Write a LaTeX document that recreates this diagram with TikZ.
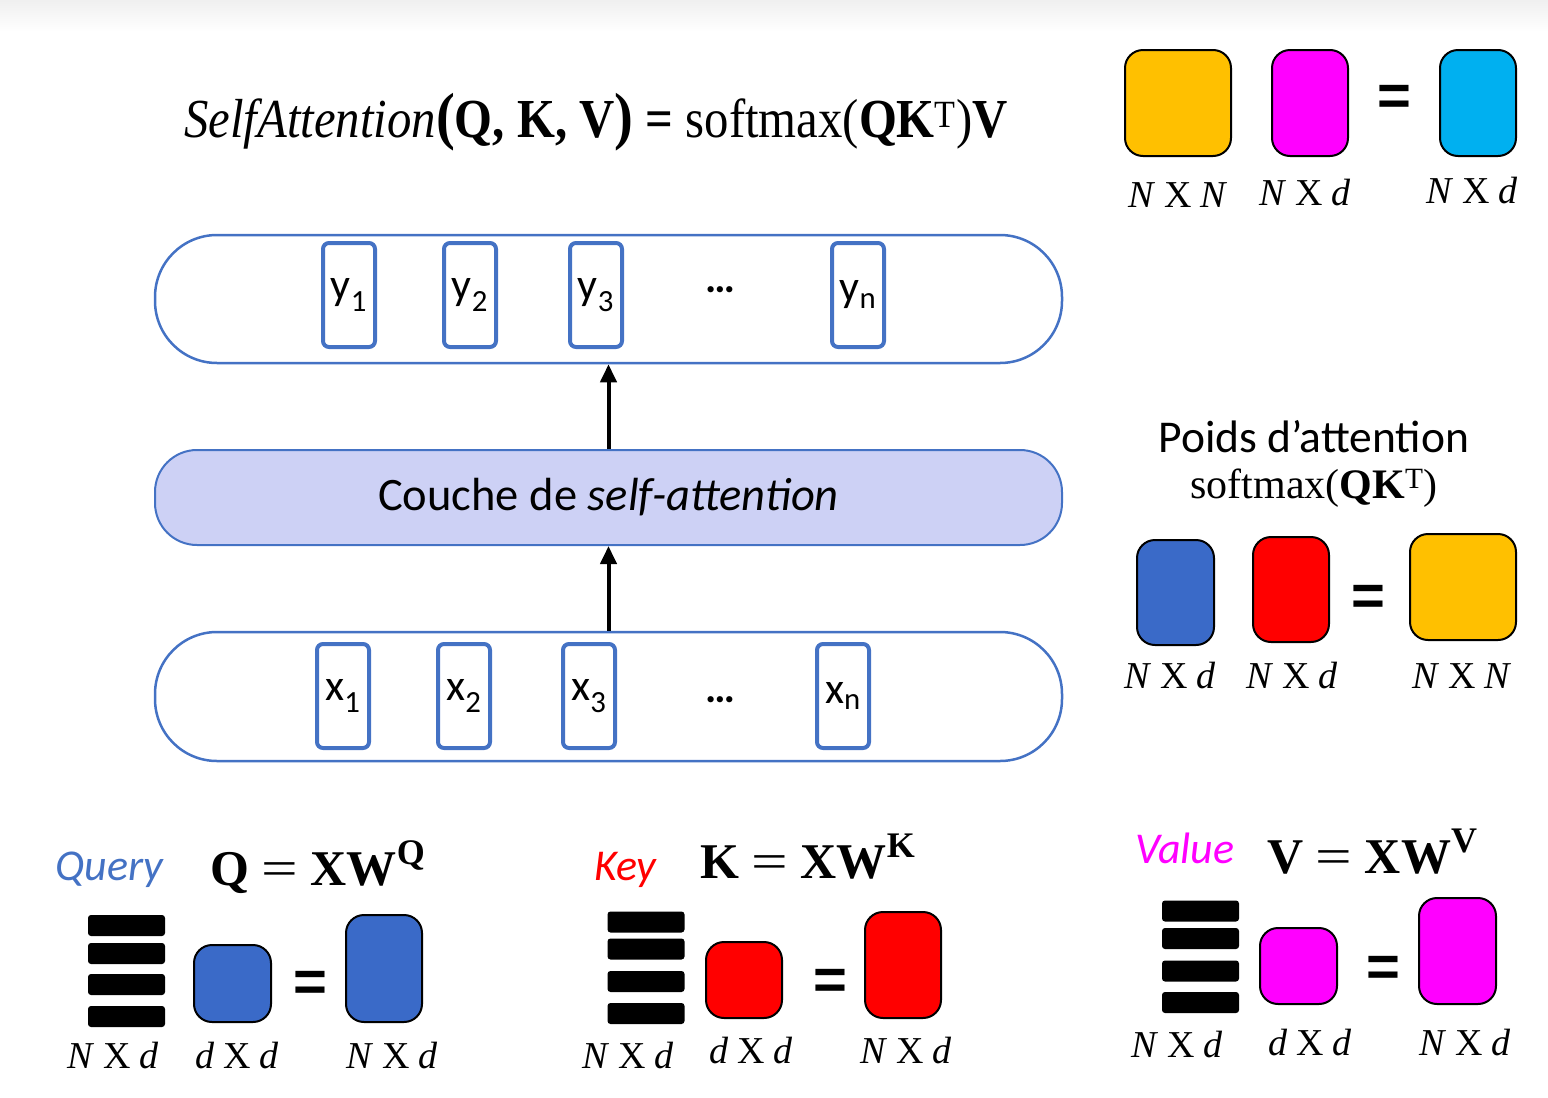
\documentclass[tikz,border=0pt]{standalone}
\usepackage{fontspec}
\setmainfont{Liberation Serif}
\newfontfamily\carl{Carlito}
\newfontfamily\arialf{Liberation Sans}
\usetikzlibrary{arrows.meta}
\definecolor{pillblue}{HTML}{4472C4}
\definecolor{qblue}{HTML}{3A6AC8}
\definecolor{kred}{HTML}{FF0000}
\definecolor{vmag}{HTML}{FF00FF}
\definecolor{worange}{HTML}{FFC000}
\definecolor{ocyan}{HTML}{00B0F0}
\definecolor{lav}{HTML}{CDD1F5}
\newcommand{\dimlab}[3]{\fontsize{38}{40}\selectfont\textit{#1}\hspace{0.22em}X\hspace{0.22em}\textit{#3}}
\newcommand{\proj}[1]{\textbf{#1}\hspace{0.25em}\scalebox{1.3}[1]{=}\hspace{0.25em}\textbf{XW}\raisebox{0.42em}{\fontsize{36}{36}\selectfont\textbf{#1}}}
\begin{document}
\begin{tikzpicture}[x=1pt,y=-1pt,
  pill/.style={draw=pillblue,line width=2.5pt,rounded corners=62pt,inner sep=0pt},
  tok/.style={draw=pillblue,line width=4pt,rounded corners=6pt,minimum width=52pt,minimum height=104pt,inner sep=0pt,font=\carl\fontsize{44}{48}\selectfont},
  mat/.style={draw=black,line width=2pt,rounded corners=18pt,inner sep=0pt},
  bar/.style={fill=black,rounded corners=3pt,minimum width=77pt,minimum height=21pt,inner sep=0pt},
  eqs/.style={font=\arialf\bfseries\fontsize{58}{60}\selectfont,inner sep=0pt},
  dim/.style={anchor=base,inner sep=0pt},
  arr/.style={line width=4pt,-{Triangle[length=18pt,width=16pt]}},
  ser/.style={inner sep=0pt,anchor=base west}]
\useasboundingbox (0,0) rectangle (1548,1098);
\shade[top color=black!6,bottom color=white] (0,0) rectangle (1548,32);

% top formula
\node[inner sep=0pt,anchor=base] (formula) at (596,137) {\scalebox{0.975}[1.1]{\fontsize{50}{60}\selectfont\textit{SelfAttention}{\fontsize{58}{60}\selectfont\textbf{(}}\textbf{Q, K, V}{\fontsize{58}{60}\selectfont\textbf{)}} \textbf{=} softmax({\bfseries QK}\textsuperscript{T})\textbf{V}}};

% top right matrices
\node[mat,fill=worange,minimum width=106pt,minimum height=106pt] (m1) at (1178,103) {};
\node[mat,fill=vmag,minimum width=76pt,minimum height=106pt] (m2) at (1310,103) {};
\node[eqs] (eq1) at (1394,100) {=};
\node[mat,fill=ocyan,minimum width=76pt,minimum height=106pt] (m3) at (1478,103) {};
\node[dim] (l1) at (1178,207) {\dimlab{N}{X}{N}};
\node[dim] (l2) at (1305,205) {\dimlab{N}{X}{d}};
\node[dim] (l3) at (1472,203) {\dimlab{N}{X}{d}};

% output pill
\node[pill,minimum width=907pt,minimum height=128pt] (ypill) at (608.5,299) {};
\node[tok] (y1) at (349,295) {y\textsubscript{1}};
\node[tok] (y2) at (470,295) {y\textsubscript{2}};
\node[tok] (y3) at (596,295) {y\textsubscript{3}};
\node[inner sep=0pt,font=\carl\bfseries\fontsize{42}{44}\selectfont] (ydots) at (720,290) {…};
\node[tok] (yn) at (858,295) {y\textsubscript{n}};

% attention layer
\node[draw=pillblue,fill=lav,line width=2pt,rounded corners=42pt,minimum width=907pt,minimum height=95pt,inner sep=0pt,font=\carl\fontsize{46.5}{50}\selectfont] (att) at (608.5,497.5) {Couche de \textit{self-attention}};

% input pill
\node[pill,minimum width=907pt,minimum height=129pt] (xpill) at (608.5,696.5) {};
\node[tok] (x1) at (343,696) {x\textsubscript{1}};
\node[tok] (x2) at (464,696) {x\textsubscript{2}};
\node[tok] (x3) at (589,696) {x\textsubscript{3}};
\node[inner sep=0pt,font=\carl\bfseries\fontsize{42}{44}\selectfont] (xdots) at (720,700) {…};
\node[tok] (xn) at (843,696) {x\textsubscript{n}};

\draw[arr] (att.north) -- (ypill.south);
\draw[arr] (xpill.north) -- (att.south);

% attention weights
\node[inner sep=0pt,anchor=base,font=\carl\fontsize{45.5}{50}\selectfont] (poids) at (1314,452) {Poids d’attention};
\node[inner sep=0pt,anchor=base,font=\fontsize{42}{48}\selectfont] (smx) at (1314,498) {softmax({\bfseries QK}\textsuperscript{T})};
\node[mat,fill=qblue,minimum width=77pt,minimum height=105pt] (w1) at (1175.5,592.5) {};
\node[mat,fill=kred,minimum width=76pt,minimum height=105pt] (w2) at (1291,589.5) {};
\node[eqs] (eq2) at (1368,600) {=};
\node[mat,fill=worange,minimum width=106pt,minimum height=106pt] (w3) at (1463,587) {};
\node[dim] (l4) at (1170,688) {\dimlab{N}{X}{d}};
\node[dim] (l5) at (1292,688) {\dimlab{N}{X}{d}};
\node[dim] (l6) at (1462,688) {\dimlab{N}{X}{N}};

% Query
\node[ser,font=\carl\itshape\fontsize{44}{48}\selectfont,text=pillblue] (qlab) at (55,880) {Query};
\node[ser,font=\fontsize{50}{52}\selectfont] (qeq) at (210,885) {\proj{Q}};
\node[bar] (qb1) at (126.5,925.5) {};
\node[bar] (qb2) at (126.5,953.5) {};
\node[bar] (qb3) at (126.5,984.5) {};
\node[bar] (qb4) at (126.5,1016.5) {};
\node[mat,fill=qblue,minimum width=77pt,minimum height=77pt] (qw) at (232.5,983.5) {};
\node[eqs] (eq3) at (310,986) {=};
\node[mat,fill=qblue,minimum width=76pt,minimum height=107pt] (qr) at (384,968.5) {};
\node[dim] (l7) at (113,1068) {\dimlab{N}{X}{d}};
\node[dim] (l8) at (237,1068) {\dimlab{d}{X}{d}};
\node[dim] (l9) at (392,1068) {\dimlab{N}{X}{d}};

% Key
\node[ser,font=\carl\itshape\fontsize{44}{48}\selectfont,text=kred] (klab) at (594,880) {Key};
\node[ser,font=\fontsize{50}{52}\selectfont] (keq) at (700,878) {\proj{K}};
\node[bar] (kb1) at (646,922) {};
\node[bar] (kb2) at (646,949) {};
\node[bar] (kb3) at (646,981.5) {};
\node[bar] (kb4) at (646,1013.5) {};
\node[mat,fill=kred,minimum width=76pt,minimum height=76pt] (kw) at (744,980) {};
\node[eqs] (eq4) at (830,984) {=};
\node[mat,fill=kred,minimum width=76pt,minimum height=106pt] (kr) at (903,965) {};
\node[dim] (l10) at (628,1068) {\dimlab{N}{X}{d}};
\node[dim] (l11) at (751,1063) {\dimlab{d}{X}{d}};
\node[dim] (l12) at (906,1063) {\dimlab{N}{X}{d}};

% Value
\node[ser,font=\carl\itshape\fontsize{44}{48}\selectfont,text=vmag] (vlab) at (1135,863) {Value};
\node[ser,font=\fontsize{50}{52}\selectfont] (veq) at (1267,873) {\proj{V}};
\node[bar] (vb1) at (1200.5,911) {};
\node[bar] (vb2) at (1200.5,938.5) {};
\node[bar] (vb3) at (1200.5,971) {};
\node[bar] (vb4) at (1200.5,1002.5) {};
\node[mat,fill=vmag,minimum width=77pt,minimum height=76pt] (vw) at (1298.5,966) {};
\node[eqs] (eq5) at (1383,971) {=};
\node[mat,fill=vmag,minimum width=77pt,minimum height=106pt] (vr) at (1457.5,951) {};
\node[dim] (l13) at (1177,1057) {\dimlab{N}{X}{d}};
\node[dim] (l14) at (1310,1055) {\dimlab{d}{X}{d}};
\node[dim] (l15) at (1465,1055) {\dimlab{N}{X}{d}};
\end{tikzpicture}
\end{document}
